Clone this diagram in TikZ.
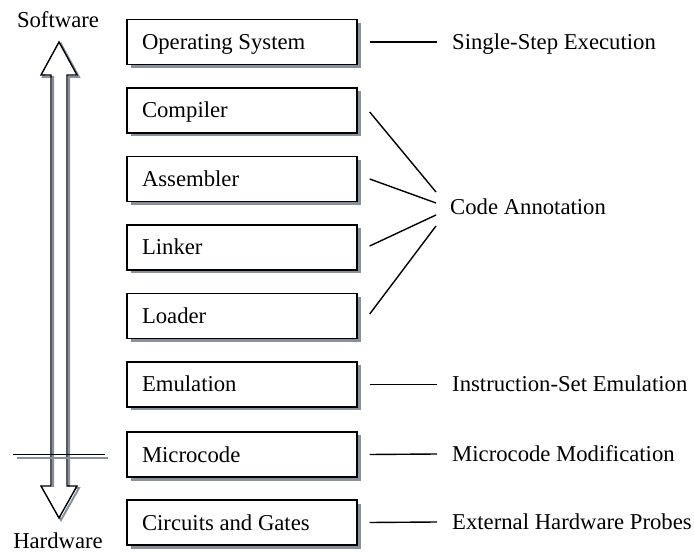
\documentclass[tikz,border=0pt]{standalone}
\usepackage{fontspec}
\setmainfont{Liberation Serif}
\usetikzlibrary{shadows}
\definecolor{shadowgray}{RGB}{135,145,155}
\newcommand{\layertext}[1]{\makebox[200pt][l]{#1}}
\tikzset{
  every node/.style={font=\fontsize{22.7}{27}\selectfont, text height=15, text depth=0},
  layerbox/.style={draw=black, line width=1.4pt, fill=white, minimum width=230, minimum height=45,
    inner xsep=15, inner ysep=0,
    drop shadow={shadow xshift=3.5pt, shadow yshift=-3.5pt, fill=shadowgray, opacity=1}},
  tool/.style={inner sep=0, anchor=west},
  endlabel/.style={inner sep=0},
  link/.style={line width=1.4pt, black},
  arrowline/.style={line width=1.4pt, black, line join=miter},
  arrowshade/.style={line width=2pt, shadowgray}
}
\begin{document}
\begin{tikzpicture}[x=1pt, y=-1pt]
  \useasboundingbox (0,0) rectangle (694,553);

  % layer boxes
  \node[layerbox] (os)   at (242,42)    {\layertext{Operating System}};
  \node[layerbox] (comp) at (242,110.5) {\layertext{Compiler}};
  \node[layerbox] (asm)  at (242,179)   {\layertext{Assembler}};
  \node[layerbox] (lnk)  at (242,247.5) {\layertext{Linker}};
  \node[layerbox] (ldr)  at (242,316)   {\layertext{Loader}};
  \node[layerbox] (emu)  at (242,384.5) {\layertext{Emulation}};
  \node[layerbox] (mic)  at (242,454.5) {\layertext{Microcode}};
  \node[layerbox] (cir)  at (242,522.5) {\layertext{Circuits and Gates}};

  % debugging techniques
  \node[tool] (sse)  at (452,42)    {Single-Step Execution};
  \node[tool] (ann)  at (450,207.5) {Code Annotation};
  \node[tool] (ise)  at (452,384.5) {Instruction-Set Emulation};
  \node[tool] (mm)   at (452,454)   {Microcode Modification};
  \node[tool] (ehp)  at (452,522)   {External Hardware Probes};

  % connector end points
  \coordinate (a1) at (436,192);
  \coordinate (a2) at (436,203);
  \coordinate (a3) at (436,215);
  \coordinate (a4) at (436,226);

  \draw[link] ([xshift=12pt]os.east)  -- ([xshift=-15pt]sse.west);
  \draw[link] ([xshift=12pt,yshift=-1.5pt]comp.east) -- (a1);
  \draw[link] ([xshift=12pt]asm.east) -- (a2);
  \draw[link] ([xshift=12pt,yshift=1.5pt]lnk.east)  -- (a3);
  \draw[link] ([xshift=12pt,yshift=2pt]ldr.east)  -- (a4);
  \draw[link] ([xshift=12pt]emu.east) -- ([xshift=-15pt]ise.west);
  \draw[link] ([xshift=12pt]mic.east) -- ([xshift=-15pt]mm.west);
  \draw[link] ([xshift=12pt]cir.east) -- ([xshift=-15pt]ehp.west);

  % software/hardware double arrow
  \node[endlabel] (sw) at (58,20.5) {Software};
  \node[endlabel] (hw) at (58,541)  {Hardware};
  \begin{scope}[shift={(2,2)}]
    \draw[arrowshade] (59,42) -- (41,75) -- (51,75) -- (51,486) -- (41,486) -- (59,518)
      -- (77,486) -- (67,486) -- (67,75) -- (77,75) -- cycle;
  \end{scope}
  \fill[white] (59,43) -- (42,74) -- (76,74) -- cycle;
  \fill[white] (59,517) -- (42,487) -- (76,487) -- cycle;
  \draw[arrowline] (59,42) -- (41,75) -- (51,75) -- (51,486) -- (41,486) -- (59,518)
    -- (77,486) -- (67,486) -- (67,75) -- (77,75) -- cycle;

  % boundary between software and hardware
  \draw[line width=1.3pt, shadowgray] (17,458) -- (108,458);
  \draw[line width=1.3pt, black] (13,454.3) -- (105,454.3);
\end{tikzpicture}
\end{document}
